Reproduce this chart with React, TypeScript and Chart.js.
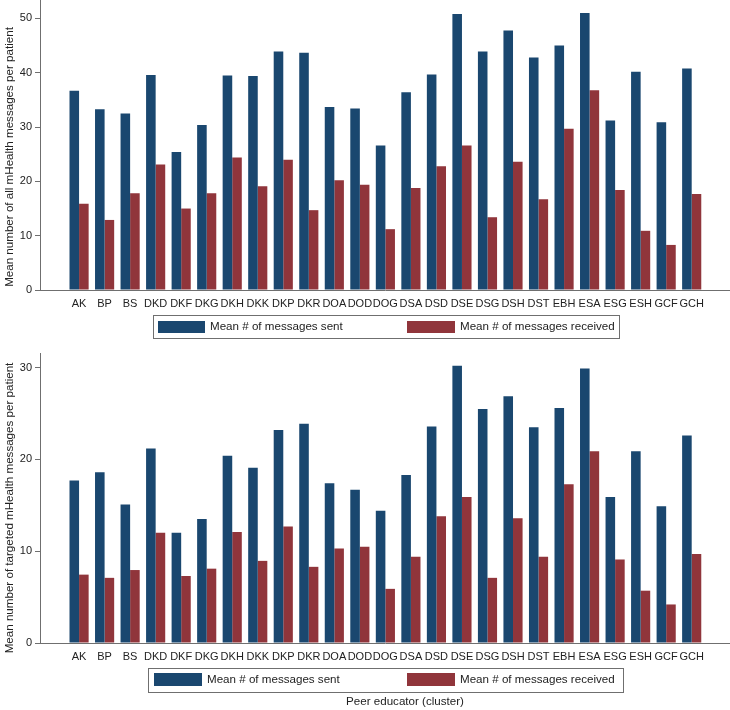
import React, { useEffect, useRef } from "react";
import { Chart, registerables } from "chart.js";

Chart.register(...registerables);

// ---------- data ----------
const categories = [
  "AK", "BP", "BS", "DKD", "DKF", "DKG", "DKH", "DKK", "DKP", "DKR", "DOA", "DOD", "DOG",
  "DSA", "DSD", "DSE", "DSG", "DSH", "DST", "EBH", "ESA", "ESG", "ESH", "GCF", "GCH",
];
const allSent = [
  36.7, 33.3, 32.5, 39.6, 25.4, 30.4, 39.5, 39.4, 43.9, 43.7, 33.7, 33.4, 26.6,
  36.4, 39.7, 50.8, 43.9, 47.8, 42.8, 45.0, 51.0, 31.2, 40.2, 30.9, 40.8,
];
const allReceived = [
  15.9, 12.9, 17.8, 23.1, 15.0, 17.8, 24.4, 19.1, 24.0, 14.7, 20.2, 19.4, 11.2,
  18.8, 22.8, 26.6, 13.4, 23.6, 16.7, 29.7, 36.8, 18.4, 10.9, 8.3, 17.7,
];
const targetedSent = [
  17.7, 18.6, 15.1, 21.2, 12.0, 13.5, 20.4, 19.1, 23.2, 23.9, 17.4, 16.7, 14.4,
  18.3, 23.6, 30.2, 25.5, 26.9, 23.5, 25.6, 29.9, 15.9, 20.9, 14.9, 22.6,
];
const targetedReceived = [
  7.45, 7.1, 7.95, 12.0, 7.3, 8.1, 12.1, 8.95, 12.7, 8.3, 10.3, 10.5, 5.9,
  9.4, 13.8, 15.9, 7.1, 13.6, 9.4, 17.3, 20.9, 9.1, 5.7, 4.2, 9.7,
];
const allTicks = [0, 10, 20, 30, 40, 50];
const targetedTicks = [0, 10, 20, 30];
const seriesLabels = ["Mean # of messages sent", "Mean # of messages received"];
const yTitleAll = "Mean number of all mHealth messages per patient";
const yTitleTargeted = "Mean number of targeted mHealth messages per patient";
const xTitle = "Peer educator (cluster)";

// ---------- styles ----------
const FONT = "'Liberation Sans', Arial, Helvetica, sans-serif";
const NAVY = "#1a476f";
const MAROON = "#90353b";
const AXIS = "#6f6f6f";
const TEXT = "#222222";

type Layout = {
  height: number;
  padTop: number;
  xHeight: number;
  yMax: number;
  legendBox: number[];
  swatches: number[][];
  textX: number[];
  yTitlePos: number[];
  xTitlePos?: number[];
};

function makeDecor(yTitle: string, lay: Layout, xTitleText?: string) {
  return {
    id: "stataDecor",
    afterDraw(chart: any) {
      const ctx = chart.ctx as CanvasRenderingContext2D;
      ctx.save();
      const [bx, by, bw, bh] = lay.legendBox;
      ctx.strokeStyle = AXIS;
      ctx.lineWidth = 1;
      ctx.strokeRect(bx + 0.5, by + 0.5, bw, bh);
      ctx.font = `11.6px ${FONT}`;
      ctx.textBaseline = "middle";
      ctx.textAlign = "left";
      chart.data.datasets.forEach((ds: any, i: number) => {
        const [sx, sy, sw, sh] = lay.swatches[i];
        ctx.fillStyle = ds.backgroundColor;
        ctx.fillRect(sx, sy, sw, sh);
        ctx.fillStyle = TEXT;
        ctx.fillText(ds.label, lay.textX[i], sy + sh / 2);
      });
      if (xTitleText && lay.xTitlePos) {
        ctx.textAlign = "center";
        ctx.fillText(xTitleText, lay.xTitlePos[0], lay.xTitlePos[1]);
      }
      ctx.translate(lay.yTitlePos[0], lay.yTitlePos[1]);
      ctx.rotate(-Math.PI / 2);
      ctx.textAlign = "center";
      ctx.fillStyle = TEXT;
      ctx.fillText(yTitle, 0, 0);
      ctx.restore();
    },
  };
}

function makeConfig(sent: number[], received: number[], yTicks: number[], yTitle: string, lay: Layout, xTitleText?: string): any {
  return {
    type: "bar",
    data: {
      datasets: [
        {
          label: seriesLabels[0],
          data: categories.map((_, i) => ({ x: i, y: sent[i] })),
          backgroundColor: NAVY,
          borderWidth: 0,
        },
        {
          label: seriesLabels[1],
          data: categories.map((_, i) => ({ x: i, y: received[i] })),
          backgroundColor: MAROON,
          borderWidth: 0,
        },
      ],
    },
    options: {
      animation: false,
      responsive: false,
      maintainAspectRatio: false,
      events: [],
      layout: { padding: { top: lay.padTop, left: 0, right: 0, bottom: 0 } },
      datasets: { bar: { categoryPercentage: 0.75, barPercentage: 1.0 } },
      plugins: { legend: { display: false }, tooltip: { enabled: false }, title: { display: false } },
      scales: {
        x: {
          type: "linear",
          min: -0.99,
          max: 24.96,
          grid: { display: false, drawTicks: false },
          border: { display: true, color: AXIS, width: 1 },
          ticks: {
            autoSkip: false,
            maxRotation: 0,
            minRotation: 0,
            padding: 7,
            color: TEXT,
            font: { family: FONT, size: 11 },
            callback: (_v: any, index: number) => categories[index] ?? "",
          },
          afterBuildTicks: (s: any) => {
            s.ticks = categories.map((_, i) => ({ value: i }));
          },
          afterFit: (s: any) => {
            s.height = lay.xHeight;
            s.paddingLeft = 0;
            s.paddingRight = 0;
          },
        },
        y: {
          min: 0,
          max: lay.yMax,
          grid: { display: true, drawOnChartArea: false, drawTicks: true, tickLength: 5, color: AXIS },
          border: { display: true, color: AXIS, width: 1 },
          ticks: { padding: 3, color: TEXT, font: { family: FONT, size: 11 } },
          afterBuildTicks: (s: any) => {
            s.ticks = yTicks.map((v) => ({ value: v }));
          },
          afterFit: (s: any) => {
            s.width = 40;
            s.paddingTop = 0;
            s.paddingBottom = 0;
          },
        },
      },
    },
    plugins: [makeDecor(yTitle, lay, xTitleText)],
  };
}

const topLayout: Layout = {
  height: 340,
  padTop: 0,
  xHeight: 50,
  yMax: 53.4,
  legendBox: [153, 315, 466, 23],
  swatches: [[158, 321, 47, 12], [407, 321, 48, 12]],
  textX: [210, 460],
  yTitlePos: [10, 157],
};

const bottomLayout: Layout = {
  height: 370,
  padTop: 13,
  xHeight: 67,
  yMax: 31.6,
  legendBox: [148, 328, 475, 24],
  swatches: [[154, 333, 48, 13], [407, 333, 48, 13]],
  textX: [207, 460],
  yTitlePos: [10, 168],
  xTitlePos: [405, 362],
};

function BarPanel(props: { sent: number[]; received: number[]; yTicks: number[]; yTitle: string; lay: Layout; xTitleText?: string; top: number }) {
  const ref = useRef<HTMLCanvasElement | null>(null);
  useEffect(() => {
    if (!ref.current) return;
    const chart = new Chart(ref.current, makeConfig(props.sent, props.received, props.yTicks, props.yTitle, props.lay, props.xTitleText));
    return () => chart.destroy();
  }, []);
  return (
    <canvas
      ref={ref}
      width={730}
      height={props.lay.height}
      style={{ position: "absolute", left: 0, top: props.top, width: 730, height: props.lay.height, display: "block" }}
    />
  );
}

export default function App() {
  return (
    <div style={{ position: "absolute", left: 0, top: 0, width: 730, height: 710, overflow: "hidden", background: "#ffffff" }}>
      <BarPanel sent={allSent} received={allReceived} yTicks={allTicks} yTitle={yTitleAll} lay={topLayout} top={0} />
      <BarPanel
        sent={targetedSent}
        received={targetedReceived}
        yTicks={targetedTicks}
        yTitle={yTitleTargeted}
        lay={bottomLayout}
        xTitleText={xTitle}
        top={340}
      />
    </div>
  );
}
